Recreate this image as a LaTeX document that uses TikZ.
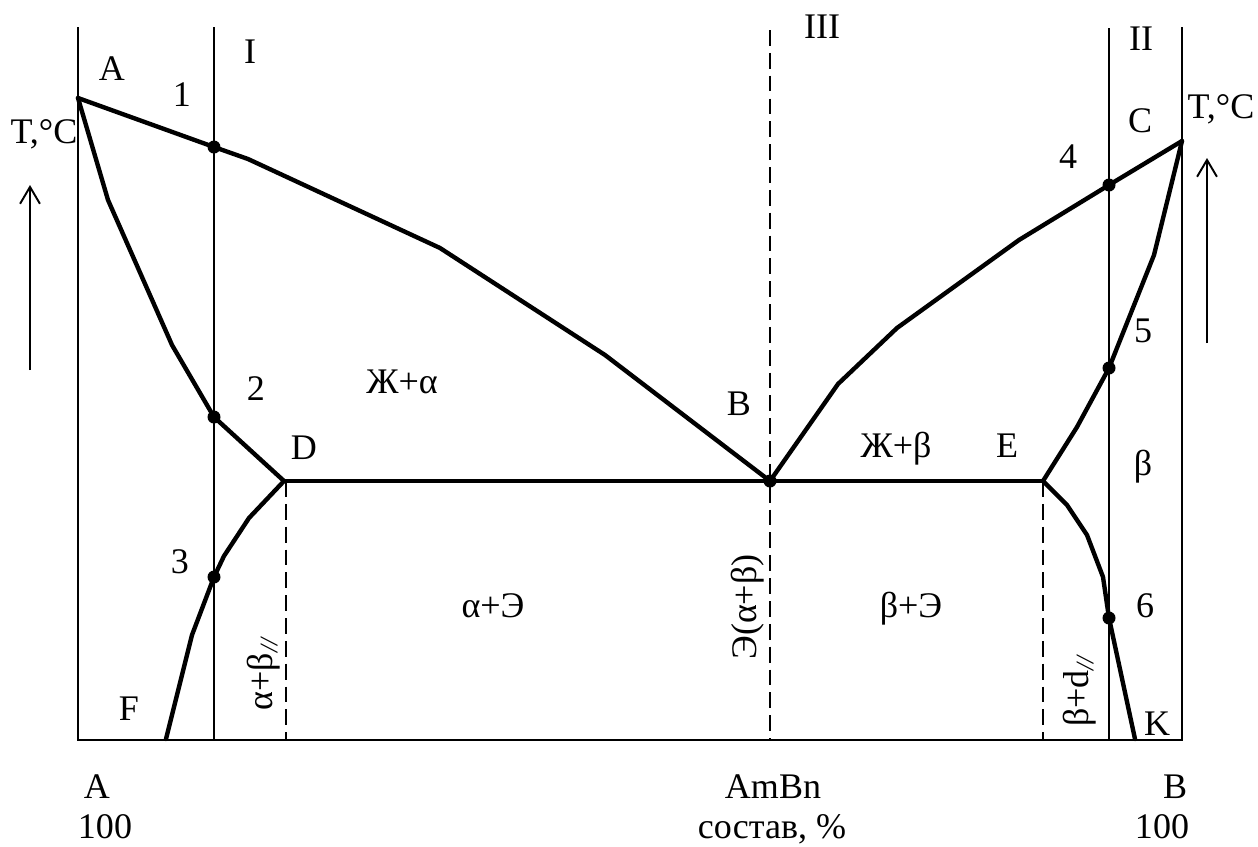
\documentclass[tikz,border=0pt]{standalone}
\usepackage{fontspec}
\setmainfont{Liberation Serif}
\usetikzlibrary{arrows.meta}
\begin{document}
\begin{tikzpicture}[x=0.02cm,y=-0.02cm,
  lbl/.style={font=\fontsize{20.5}{24}\selectfont, inner sep=0pt, anchor=base},
  rlbl/.style={lbl, rotate=90},
  axisline/.style={line width=1.1pt},
  phaseline/.style={line width=2.5pt, line join=round, line cap=round},
  dashline/.style={line width=0.9pt, dash pattern=on 9pt off 4pt},
  dot/.style={circle, fill, inner sep=0pt, minimum size=0.26cm},
  tarrow/.style={line width=1.1pt, -{Straight Barb[length=9.6pt,width=11.3pt]}}
]
\useasboundingbox (0,0) rectangle (1258,846);
% frame coordinates
\coordinate (LT) at (78,27);
\coordinate (LB) at (78,740);
\coordinate (RT) at (1182,27);
\coordinate (RB) at (1182,740);
\coordinate (IT) at (214,27);
\coordinate (IB) at (214,740);
\coordinate (IIT) at (1109,28);
\coordinate (IIB) at (1109,740);
\coordinate (IIIT) at (770,30);
\coordinate (IIIB) at (770,740);
\coordinate (DB) at (286,740);
\coordinate (EB) at (1043,740);
% curve points
\coordinate (Atop) at (78,98);
\coordinate (La) at (248,159);
\coordinate (Lb) at (440,248);
\coordinate (Lc) at (605,355);
\coordinate (Bpt) at (770,481);
\coordinate (S1) at (108,200);
\coordinate (S2) at (172,345);
\coordinate (Dpt) at (284,481);
\coordinate (Dd) at (286,481);
\coordinate (V1) at (249,518);
\coordinate (V2) at (224,556);
\coordinate (V3) at (192,635);
\coordinate (Fend) at (166,739);
\coordinate (R1) at (838,384);
\coordinate (R2) at (897,328);
\coordinate (R3) at (1019,240);
\coordinate (Ctop) at (1182,141);
\coordinate (R4) at (1154,255);
\coordinate (R5) at (1077,427);
\coordinate (Ept) at (1043,481);
\coordinate (W1) at (1067,505);
\coordinate (W2) at (1087,535);
\coordinate (W3) at (1103,577);
\coordinate (Kend) at (1135,739);
\coordinate (p1) at (214,147);
\coordinate (p2) at (214,417);
\coordinate (p3) at (214,577);
\coordinate (p4) at (1109,185);
\coordinate (p5) at (1109,368);
\coordinate (p6) at (1109,618);
% arrows
\coordinate (TLa) at (30,370);
\coordinate (TLb) at (30,185);
\coordinate (TRa) at (1207,343);
\coordinate (TRb) at (1207,158);

% axes and composition lines
\draw[axisline] (LT) -- (LB) -- (RB) -- (RT);
\draw[axisline] (IT) -- (IB);
\draw[axisline] (IIT) -- (IIB);
\draw[dashline] (IIIT) -- (IIIB);
\draw[dashline] (Dd) -- (DB);
\draw[dashline] (Ept) -- (EB);

% phase boundaries
\draw[phaseline] (Atop) -- (p1) -- (La) -- (Lb) -- (Lc) -- (Bpt);
\draw[phaseline] (Atop) -- (S1) -- (S2) -- (p2) -- (Dpt);
\draw[phaseline] (Dpt) -- (V1) -- (V2) -- (p3) -- (V3) -- (Fend);
\draw[phaseline] (Dpt) -- (Ept);
\draw[phaseline] (Bpt) -- (R1) -- (R2) -- (R3) -- (p4) -- (Ctop);
\draw[phaseline] (Ctop) -- (R4) -- (p5) -- (R5) -- (Ept);
\draw[phaseline] (Ept) -- (W1) -- (W2) -- (W3) -- (p6) -- (Kend);

% dots
\node[dot] (d1) at (p1) {};
\node[dot] (d2) at (p2) {};
\node[dot] (d3) at (p3) {};
\node[dot] (d4) at (p4) {};
\node[dot] (d5) at (p5) {};
\node[dot] (d6) at (p6) {};
\node[dot] (dB) at (Bpt) {};

% temperature arrows
\draw[tarrow] (TLa) -- (TLb);
\draw[tarrow] (TRa) -- (TRb);

% labels
\node[lbl] (lA) at (112,80) {A};
\node[lbl] (l1) at (182,106) {1};
\node[lbl] (lI) at (250,63) {I};
\node[lbl] (lTl) at (44,143) {T,°C};
\node[lbl] (l2) at (256,400) {2};
\node[lbl] (lD) at (304,459) {D};
\node[lbl] (lZa) at (402,393) {Ж+α};
\node[lbl] (lB) at (739,415) {B};
\node[lbl] (lIII) at (822,38) {III};
\node[lbl] (lZb) at (896,457) {Ж+β};
\node[lbl] (lE) at (1007,457) {E};
\node[lbl] (lII) at (1141,50) {II};
\node[lbl] (lC) at (1140,132) {C};
\node[lbl] (lTr) at (1221,118) {T,°C};
\node[lbl] (l4) at (1068,168) {4};
\node[lbl] (l5) at (1143,342) {5};
\node[lbl] (lbeta) at (1143,475) {β};
\node[lbl] (l3) at (180,573) {3};
\node[lbl] (lF) at (129,720) {F};
\node[lbl] (l6) at (1145,617) {6};
\node[lbl] (lK) at (1157,735) {K};
\node[lbl] (laE) at (493,617) {α+Э};
\node[lbl] (lbE) at (911,617) {β+Э};
\node[rlbl] (lab) at (272,674) {α+β\textsubscript{\itshape //}};
\node[rlbl] (lbd) at (1088,691) {β+d\textsubscript{\itshape //}};
\node[rlbl] (lEab) at (756,607) {Э(α+β)};
\node[lbl] (lAb) at (97,798) {A};
\node[lbl] (l100a) at (105,838) {100};
\node[lbl] (lAmBn) at (773,798) {AmBn};
\node[lbl] (lsost) at (772,838) {состав, \%};
\node[lbl] (lBb) at (1175,798) {B};
\node[lbl] (l100b) at (1162,838) {100};
\end{tikzpicture}
\end{document}
